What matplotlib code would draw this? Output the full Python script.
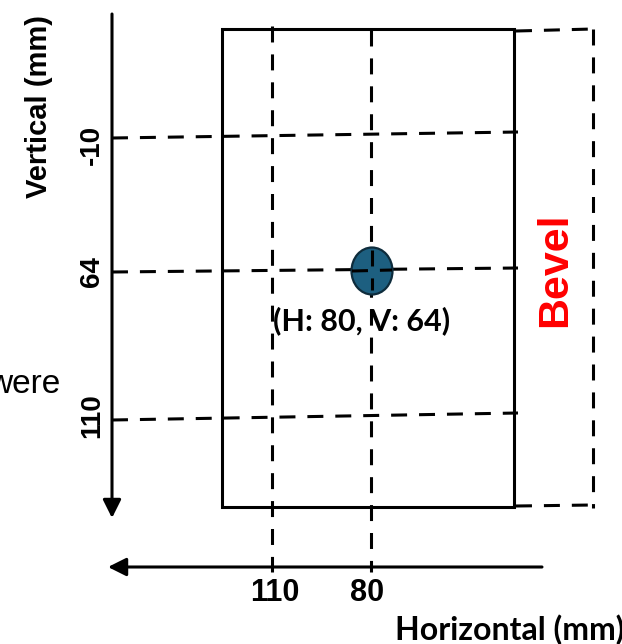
"""Bevel measurement schematic: probe position on the plate (pixel-space layout)."""
import matplotlib
matplotlib.use("Agg")
import matplotlib.pyplot as plt
from matplotlib import font_manager as fm
from matplotlib.patches import Rectangle, Ellipse, FancyArrowPatch

plt.rcParams["lines.scale_dashes"] = False

# labels / values
v_ticks = ["-10", "64", "110"]
h_ticks = ["110", "80"]
point_h, point_v = 80, 64
point_label = f"(H: {point_h}, V: {point_v})"
v_title = "Vertical (mm)"
h_title = "Horizontal (mm)"
bevel_label = "Bevel"
stray_text = "were"


def font_file(name, weight):
    # upright, regular-width face only (skip Narrow / Italic files)
    for f in fm.fontManager.ttflist:
        if (f.name == name and f.weight == weight and f.style == "normal"
                and "Narrow" not in f.fname):
            return f.fname
    return None


def fp(size, bold=True, name="Liberation Sans"):
    path = font_file(name, 700 if bold else 400)
    if path:
        return fm.FontProperties(fname=path, size=size)
    return fm.FontProperties(family=name, weight="bold" if bold else "normal", size=size)


W, H = 622, 644
fig = plt.figure(figsize=(W / 100, H / 100), dpi=100)
ax = fig.add_axes([0, 0, 1, 1])
ax.set_xlim(0, W)
ax.set_ylim(H, 0)
ax.axis("off")

DASH = (0, (11.5, 8.6))
LW = 2.2

# plate outline
ax.add_patch(Rectangle((222, 29), 292, 478, fill=False, ec="black", lw=LW, zorder=3))

# bevel outline (dashed)
ax.plot([516, 593], [31, 29], color="black", lw=LW, ls=DASH)
ax.plot([593, 593], [29, 508], color="black", lw=LW, ls=DASH)
ax.plot([516, 593], [506, 505], color="black", lw=LW, ls=DASH)

# horizontal guide lines at each vertical tick
v_rows = [(138, 132), (272, 268), (420, 413)]
for (yl, yr) in v_rows:
    ax.plot([112, 518], [yl, yr], color="black", lw=LW, ls=DASH, zorder=2)

# vertical guide lines at each horizontal tick
h_cols = [(272, 26), (371, 30)]
for (x, y0) in h_cols:
    ax.plot([x, x], [y0, 572], color="black", lw=LW, ls=DASH, zorder=2)

# axis arrows
arrow_style = "-|>,head_length=11,head_width=5.5"
ax.add_patch(FancyArrowPatch((112, 14), (112, 518), arrowstyle=arrow_style,
                             mutation_scale=1, lw=LW, color="black",
                             shrinkA=0, shrinkB=0, zorder=4))
ax.add_patch(FancyArrowPatch((542, 567), (108, 567), arrowstyle=arrow_style,
                             mutation_scale=1, lw=LW, color="black",
                             shrinkA=0, shrinkB=0, zorder=4))

# measurement point
ax.add_patch(Ellipse((372, 271), 41, 47, fc="#1d5f80", ec="#0e2c3c", lw=1.6, zorder=5))
ax.plot([372, 372], [250, 290], color="black", lw=LW, ls=DASH, zorder=6)
ax.plot([352, 392], [271, 270], color="black", lw=LW, ls=DASH, zorder=6)

# tick labels
v_label_pos = [(92, 145), (92, 272), (92, 416)]
for lab, (x, y) in zip(v_ticks, v_label_pos):
    ax.text(x, y, lab, rotation=90, ha="center", va="center", fontproperties=fp(20))
h_label_pos = [(275, 593), (367, 593)]
for lab, (x, y) in zip(h_ticks, h_label_pos):
    ax.text(x, y, lab, ha="center", va="center", fontproperties=fp(22))

ax.text(39, 106, v_title, rotation=90, ha="center", va="center", fontproperties=fp(21))
ax.text(395, 640, h_title, ha="left", va="baseline", fontproperties=fp(23, name="Lato"))
ax.text(362, 330, point_label, ha="center", va="baseline",
        fontproperties=fp(22, name="Lato"), zorder=7)
ax.text(555, 270, bevel_label, rotation=90, ha="center", va="center",
        fontproperties=fp(31), color="#ff0000")
ax.text(60, 393, stray_text, ha="right", va="baseline", fontproperties=fp(24, bold=False))

fig.savefig("out.png", dpi=100)
